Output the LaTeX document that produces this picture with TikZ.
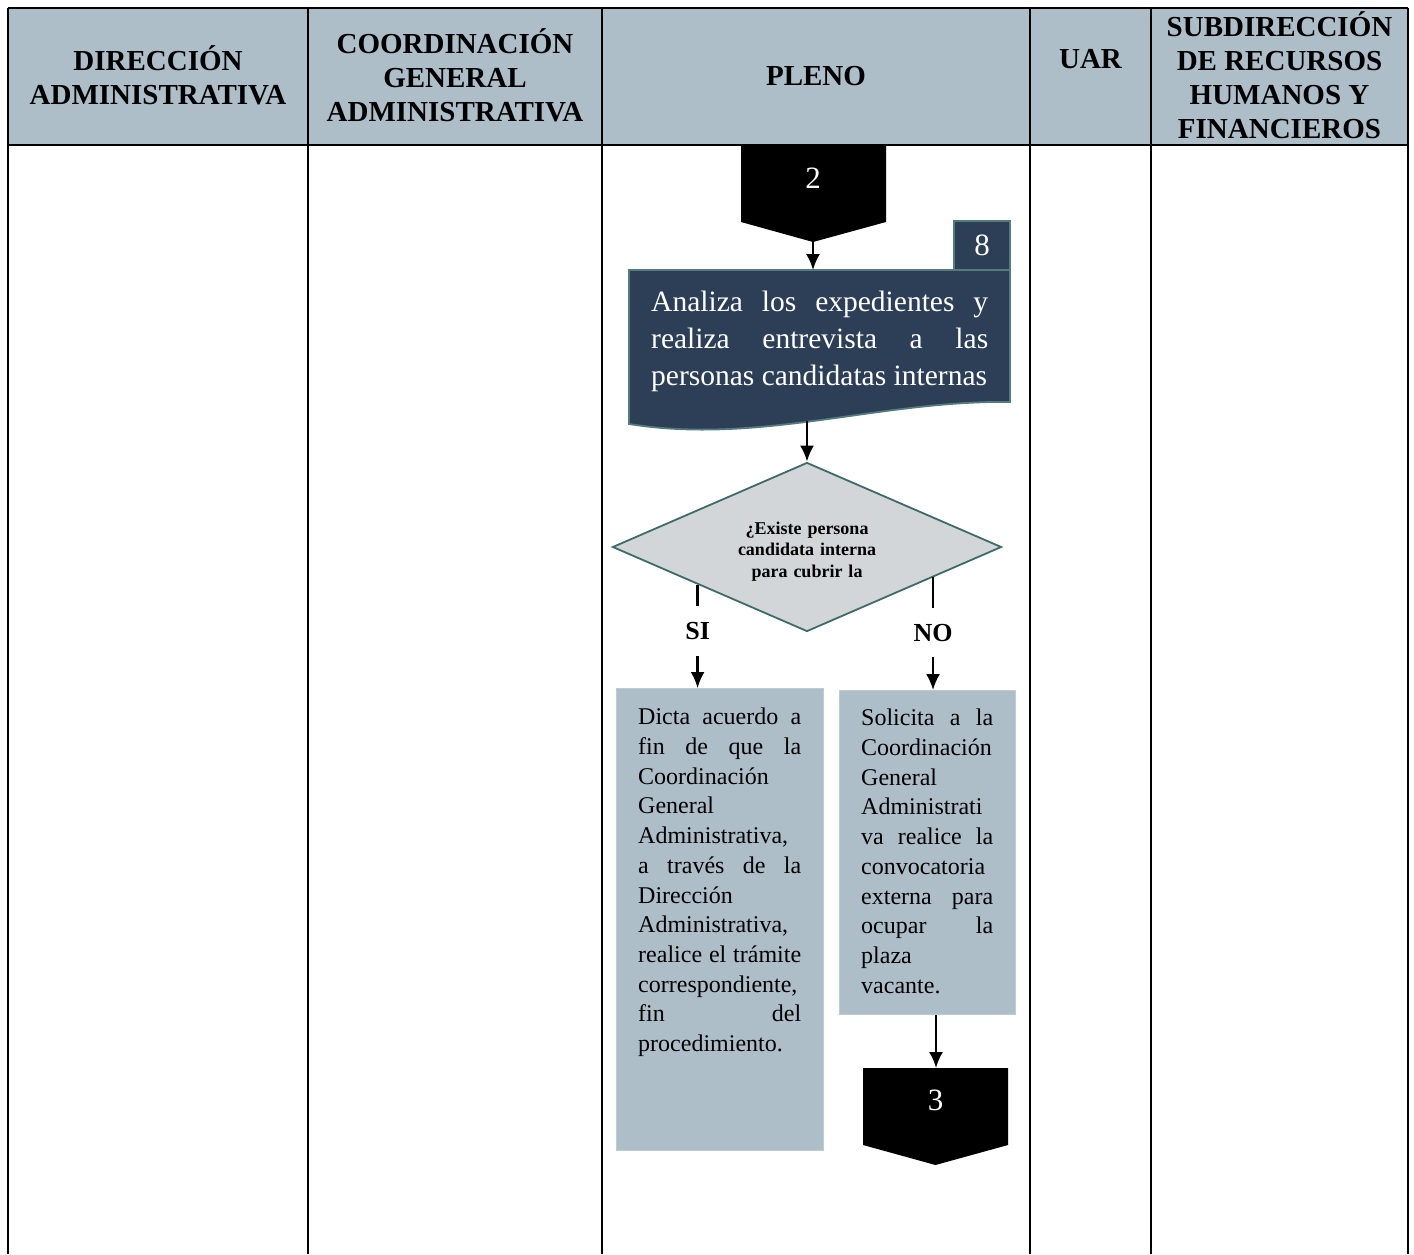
\documentclass[tikz,border=0pt]{standalone}
\usepackage{fontspec}
\setmainfont{Liberation Serif}
\usetikzlibrary{arrows.meta,positioning,calc,shapes.geometric}

\definecolor{laneBlue}{RGB}{173,190,201}
\definecolor{stepNavy}{RGB}{45,63,87}
\definecolor{stepEdge}{RGB}{84,124,124}
\definecolor{decisionGray}{RGB}{211,214,217}
\definecolor{decisionEdge}{RGB}{62,106,106}
\newcommand{\spreadline}[2]{{\spaceskip=0pt\xspaceskip=0pt\makebox[#1][s]{#2}}}

\begin{document}
\begin{tikzpicture}[x=1pt, y=-1pt,
		every node/.style={align=center, inner sep=0pt},
		laneLine/.style={line width=2.5pt},
		laneTitle/.style={font=\fontsize{29}{34}\selectfont\bfseries},
		offpageShape/.style={fill=black},
		offpageText/.style={text=white, font=\fontsize{31}{36}\selectfont},
		stepNumber/.style={
				draw=stepEdge, fill=stepNavy, line width=1.8pt,
				minimum width=56pt, minimum height=49pt,
				text=white, font=\fontsize{31}{36}\selectfont
			},
		docShape/.style={draw=stepEdge, fill=stepNavy, line width=1.8pt},
		docText/.style={
				text=white, text width=337pt, align=justify, anchor=north west,
				execute at begin node={\spaceskip=0pt\xspaceskip=0pt},
				font=\fontsize{29.5}{36.7}\selectfont
			},
		decisionVertex/.style={
				draw=decisionEdge, fill=decisionGray, line width=1.8pt,
				shape=diamond, aspect=2.3,
				minimum width=389pt, minimum height=169pt,
				text width=170pt, font=\fontsize{18}{21.5}\selectfont\bfseries
			},
		actionBox/.style={fill=laneBlue, draw=laneBlue!80!white, line width=1pt, anchor=north west},
		actionText/.style={
				text width=#1, align=justify, anchor=north west,
				execute at begin node={\spaceskip=0pt\xspaceskip=0pt},
				font=\fontsize{24}{29.7}\selectfont
			},
		branchLabel/.style={fill=white, inner xsep=3pt, inner ysep=16pt, font=\fontsize{26}{30}\selectfont\bfseries},
		flowArrow/.style={line width=2.2pt, -{Latex[length=16pt,width=14pt]}}
	]
	\useasboundingbox (0,0) rectangle (1414,1254);

	% Lanes
	\fill[laneBlue] (8,8) rectangle (1408,145);
	\draw[laneLine] (8,8) -- (1408,8);
	\draw[laneLine] (8,145) -- (1408,145);
	\foreach \x in {8,308,602,1030,1151,1408}
		\draw[laneLine] (\x,8) -- (\x,1254);

	\node[laneTitle] (laneDA) at (158,75.5) {DIRECCIÓN\\ADMINISTRATIVA};
	\node[laneTitle] (laneCGA) at (455,75) {COORDINACIÓN\\GENERAL\\ADMINISTRATIVA};
	\node[laneTitle] (lanePleno) at (816,76) {PLENO};
	\node[laneTitle] (laneUAR) at (1090.5,59) {UAR};
	\node[laneTitle] (laneSRHF) at (1279.5,75) {SUBDIRECCIÓN\\DE RECURSOS\\HUMANOS Y\\FINANCIEROS};

	% Off-page connector 2
	\fill[offpageShape] (741,145) -- (886,145) -- (886,222) -- (813,242) -- (741,222) -- cycle;
	\node[offpageText] (off2) at (813,178) {2};
	\coordinate (off2Tip) at (813,242);

	% Step 8
	\node[stepNumber] (step8) at (982,245.5) {8};
	\draw[docShape] (629,270) -- (1010,270) -- (1010,402)
		.. controls (880,400) and (760,445) .. (629,424) -- cycle;
	\coordinate (docTop) at (813,270);
	\coordinate (docBottom) at (807,421);
	\node[docText] (docAnaliza) at (651,291) {\spreadline{337pt}{Analiza los expedientes y}\\
		\spreadline{337pt}{realiza entrevista a las}\\
		personas candidatas internas};

	% Decision
	\node[decisionVertex] (decision) at (807,547) {\rule{0pt}{21pt}¿Existe persona\\candidata interna\\para cubrir la};

	% SI branch
	\node[actionBox, minimum width=207pt, minimum height=462pt] (actSi) at (616,688) {};
	\node[actionText=163pt] (actSiText) at (638,708) {\spreadline{163pt}{Dicta acuerdo a}\\
		\spreadline{163pt}{fin de que la}\\
		Coordinación\\
		General\\
		Administrativa,\\
		\spreadline{163pt}{a través de la}\\
		Dirección\\
		Administrativa,\\
		\spreadline{163pt}{realice el trámite}\\
		correspondiente,\\
		\spreadline{163pt}{fin del}\\
		procedimiento.};

	% NO branch
	\node[actionBox, minimum width=176pt, minimum height=324pt] (actNo) at (839,690) {};
	\node[actionText=132pt] (actNoText) at (861,709) {\spreadline{132pt}{Solicita a la}\\
		Coordinación\\
		General\\
		Administrati\\
		\spreadline{132pt}{va realice la}\\
		convocatoria\\
		\spreadline{132pt}{externa para}\\
		\spreadline{132pt}{ocupar la}\\
		plaza\\
		vacante.};

	% Off-page connector 3
	\fill[offpageShape] (863,1068) -- (1008,1068) -- (1008,1145) -- (935.5,1165) -- (863,1145) -- cycle;
	\node[offpageText] (off3) at (935.5,1100) {3};
	\coordinate (off3Top) at (936,1068);

	% Arrows
	\draw[flowArrow] (off2Tip) -- (docTop);
	\draw[flowArrow] (docBottom) -- (decision.north);
	\coordinate (siStart) at ($(decision.west)!0.44!(decision.south)$);
	\coordinate (noStart) at ($(decision.east)!0.355!(decision.south)$);
	\draw[flowArrow] (siStart) -- node[branchLabel, pos=0.45] (lblSi) {SI} (siStart |- actSi.north);
	\draw[flowArrow] (noStart) -- node[branchLabel, pos=0.49] (lblNo) {NO} (noStart |- actNo.north);
	\draw[flowArrow] (actNo.south -| off3Top) -- (off3Top);
\end{tikzpicture}
\end{document}
